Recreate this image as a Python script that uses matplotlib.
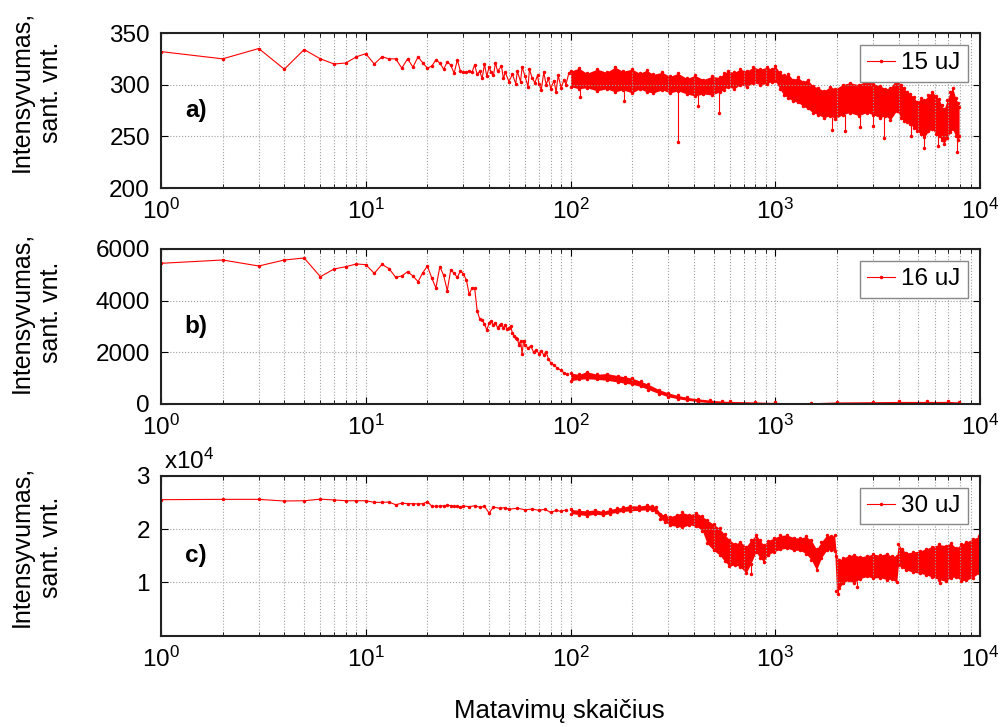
import numpy as np
import matplotlib.pyplot as plt
from matplotlib.ticker import LogLocator, NullFormatter, FixedLocator, FixedFormatter

plt.rcParams['font.family'] = ['Liberation Sans', 'DejaVu Sans']
plt.rcParams['mathtext.default'] = 'regular'

# ---- panel a) 15 uJ ----
a_x = list(range(1, 45)) + [46, 47, 48, 50, 52, 54, 55, 57, 58, 60,
                            62, 63, 65, 67, 69, 70, 72, 74, 76, 78,
                            80, 83, 85, 87, 90, 93, 95, 98]
a_y = [332, 325, 335, 315, 334, 325, 320, 321, 327, 330,
       320, 327, 325, 325, 316, 325, 317, 327, 321, 316,
       318, 324, 321, 315, 322, 319, 311, 324, 313, 312,
       312, 313, 312, 319, 310, 313, 306, 320, 308, 317,
       312, 309, 321, 313, 318, 306, 312, 303, 310, 301,
       313, 303, 317, 308, 298, 315, 306, 302, 309, 301,
       295, 312, 300, 306, 296, 304, 293, 309, 297, 305,
       300, 311]
# dense part: upper / lower edge of the noise band
a_bx = [100, 110, 120, 135, 150, 165, 180, 200, 218, 235, 254, 280, 306, 335,
        370, 405, 445, 490, 535, 560, 585, 630, 675, 725, 780, 845, 912, 960,
        1000, 1050, 1100, 1160, 1220, 1290, 1370, 1440, 1520, 1620, 1730, 1850,
        1965, 2130, 2310, 2550, 2800, 3000, 3250, 3450, 3650, 3920, 4100, 4230,
        4400, 4560, 4750, 4940, 5150, 5340, 5600, 5840, 6100, 6310, 6500, 6670,
        6900, 7150, 7350, 7600, 7830, 7900]
a_hi = [313, 316, 311, 315, 312, 317, 313, 315, 311, 314, 310, 312, 308, 311,
        306, 309, 305, 308, 307, 311, 313, 312, 315, 313, 317, 315, 317, 315,
        318, 312, 309, 310, 305, 307, 303, 305, 299, 297, 294, 298,
        296, 300, 302, 300, 304, 301, 299, 296, 297, 306, 300, 297,
        293, 291, 288, 283, 287, 285, 290, 293, 289, 286, 280, 276,
        285, 293, 297, 287, 282, 278]
a_lo = [298, 296, 297, 294, 296, 293, 295, 292, 296, 293, 292, 295, 292, 294,
        291, 289, 291, 290, 293, 295, 298, 296, 300, 298, 302, 300, 301, 303,
        304, 296, 290, 287, 284, 283, 279, 277, 273, 271, 268, 270,
        267, 271, 273, 270, 273, 271, 268, 270, 266, 275, 268, 265,
        264, 262, 258, 255, 252, 249, 255, 257, 252, 250, 246, 243,
        248, 254, 257, 250, 246, 250]
a_sx = [111, 183, 335, 420, 530, 1900, 2200, 2600, 3000, 3400, 4600, 5300, 6200, 7700]
a_sy = [288, 284, 245, 279, 273, 256, 255, 259, 260, 248, 250, 239, 241, 235]

# ---- panel b) 16 uJ ----
b_x = list(range(1, 61)) + [62, 64, 66, 68, 70, 72, 74, 76, 78, 80,
                            83, 86, 90, 93, 96]
b_y = [5446, 5574, 5342, 5574, 5652, 4928, 5226, 5316, 5420, 5394,
       5058, 5406, 5239, 4903, 4955, 5123, 4955, 4735, 5084, 5342,
       4877, 4490, 5316, 4980, 4387, 5200, 5058, 4900, 5160, 5030,
       4800, 4240, 4490, 4490, 3613, 3290, 3265, 3097, 2865, 3123,
       3200, 3050, 3150, 2950, 3050, 3100, 2950, 3050, 2900, 2950,
       3000, 2750, 2650, 2550, 2500, 2300, 2450, 1950, 2450, 2300,
       2150, 2250, 2000, 2100, 1950, 2050, 1900, 2000, 1750, 1600,
       1500, 1400, 1300, 1200, 1150]
b_bx = [100, 110, 120, 135, 150, 170, 185, 200, 220, 240, 270, 300, 335, 370,
        420, 480, 550, 600, 800, 1000, 1500, 2000, 3000, 4000, 5500, 7000, 7900]
b_hi = [1200, 1150, 1250, 1150, 1180, 1100, 1050, 1000, 880, 760, 560, 430, 330, 260,
        200, 150, 110, 100, 80, 60, 50, 80, 90, 100, 100, 100, 80]
b_lo = [900, 950, 980, 950, 920, 850, 800, 760, 680, 560, 400, 280, 200, 150,
        90, 50, 20, 15, 10, 0, 0, 10, 20, 20, 20, 20, 10]
b_sx = []
b_sy = []

# ---- panel c) 30 uJ ----
c_x = list(range(1, 31)) + [32, 34, 36, 38, 40, 42, 45, 48, 50, 55,
                            60, 65, 70, 75, 80, 85, 90, 95]
c_y = [25500, 25560, 25560, 25250, 25300, 25600, 25450, 25300, 25300, 25300,
       25000, 25000, 25050, 24550, 24850, 24750, 24750, 24700, 24750, 25100,
       24300, 24250, 24300, 24350, 24450, 24400, 24300, 24250, 24100, 24300,
       24200, 24350, 24100, 24250, 23000, 24100, 23900, 24000, 23700, 23900,
       23600, 23750, 23500, 23700, 23100, 23500, 23300, 23600]
c_bx = [100, 110, 120, 132, 144, 156, 168, 180, 195, 215, 236, 250, 260, 275,
        290, 306, 330, 352, 380, 412, 440, 464, 500, 535, 565, 597, 635, 675,
        720, 760, 805, 840, 876, 920, 980, 1060, 1140, 1230, 1320, 1410, 1500,
        1590, 1680, 1780, 1870, 1950, 1990, 2050, 2150, 2280, 2410, 2600, 2800,
        3000, 3250, 3500, 3700, 3920, 3990, 4150, 4370, 4700, 5100, 5450, 5840,
        6300, 6800, 7200, 7650, 8100, 8580, 9200, 9850, 10000]
c_hi = [23700, 23500, 23400, 23600, 23300, 23700, 23900, 24100, 24400, 24300,
        24500, 24400, 24200, 22900, 22600, 22300, 22700, 23100, 22700, 23000,
        22400, 21700, 20900, 20100, 19000, 18000, 17200, 17600, 16700, 17900,
        18900, 18000, 17000, 17800, 18300, 18800, 18900, 18400, 18300, 18600,
        17900, 16200, 17600, 18800, 18700, 18800, 15000, 14200, 14600, 15000,
        15200, 14800, 15000, 15300, 15100, 15400, 14900, 15000, 17200, 16300,
        15500, 15700, 15900, 16300, 16700, 17100, 16900, 17400, 16400, 17200,
        17600, 18100, 18600, 19000]
c_lo = [22900, 22700, 22500, 22800, 22600, 22900, 23100, 23300, 23400, 23500,
        23600, 23500, 23200, 21900, 21300, 20700, 20500, 20300, 20800, 20500,
        19700, 17300, 16000, 15100, 14000, 13000, 13300, 12900, 11700, 13500,
        15700, 14600, 13900, 15100, 15700, 16200, 16400, 16000, 16000, 15400,
        14200, 12300, 14600, 16000, 16100, 15800, 8400, 8900, 9900, 10400,
        9900, 10700, 11100, 10800, 10900, 10500, 10600, 10000, 13200, 12800,
        12300, 11900, 11700, 11400, 11000, 10500, 10200, 10900, 11000, 10300,
        10400, 10900, 11700, 12000]
c_sx = [760, 2030, 2500, 6400]
c_sy = [11500, 7900, 9200, 9800]

RED = '#ff0000'
FS = 17.5

fig = plt.figure(figsize=(10.02, 7.27), dpi=100)
ax_a = fig.add_axes([0.1607, 0.7414, 0.8174, 0.2132])
ax_b = fig.add_axes([0.1607, 0.4443, 0.8174, 0.2132])
ax_c = fig.add_axes([0.1607, 0.1256, 0.8174, 0.2201])


def draw_panel(ax, px, py, bx, hi, lo, sx, sy, label, letter, ylim, yticks, yticklabels, ylab_y):
    ax.fill_between(bx, lo, hi, color=RED, lw=0)
    ax.plot(bx, hi, '.', color=RED, ms=3)
    ax.plot(bx, lo, '.', color=RED, ms=3)
    if sx:
        base = np.interp(sx, bx, lo)
        ax.vlines(sx, sy, base, color=RED, lw=0.8)
        ax.plot(sx, sy, '.', color=RED, ms=3)
    ax.plot(px, py, '-', marker='.', color=RED, lw=0.8, ms=3, label=label)

    ax.set_xscale('log')
    ax.set_xlim(1, 1e4)
    ax.set_ylim(*ylim)
    ax.xaxis.set_major_locator(LogLocator(base=10, numticks=10))
    ax.xaxis.set_minor_locator(LogLocator(base=10, subs=np.arange(2, 10), numticks=100))
    ax.xaxis.set_minor_formatter(NullFormatter())
    ax.yaxis.set_major_locator(FixedLocator(yticks))
    ax.yaxis.set_major_formatter(FixedFormatter(yticklabels))
    ax.grid(True, which='both', axis='x', ls=':', color='#a0a0a0', lw=0.8)
    ax.grid(True, which='major', axis='y', ls=':', color='#a0a0a0', lw=0.8)
    ax.tick_params(which='both', direction='in', top=True, right=True, labelsize=FS)
    ax.tick_params(which='major', length=5, pad=8)
    ax.tick_params(which='minor', length=3)
    for s in ax.spines.values():
        s.set_linewidth(1.5)
        s.set_color('#222222')

    ax.set_ylabel('Intensyvumas,\nsant. vnt.', fontsize=18, linespacing=1.25)
    ax.yaxis.set_label_coords(-0.12, ylab_y)
    ax.text(0.029, 0.5, letter, transform=ax.transAxes, fontsize=FS,
            fontweight='bold', va='center', ha='left')
    leg = ax.legend(loc='upper right', fontsize=FS, fancybox=False, framealpha=1,
                    edgecolor='#888888', handlelength=1.15, handletextpad=0.25,
                    borderpad=0.3, borderaxespad=0.5)
    leg.get_frame().set_linewidth(1.0)


draw_panel(ax_a, a_x, a_y, a_bx, a_hi, a_lo, a_sx, a_sy, '15 uJ', 'a)',
           (200, 350), [200, 250, 300, 350], ['200', '250', '300', '350'], 0.62)
draw_panel(ax_b, b_x, b_y, b_bx, b_hi, b_lo, b_sx, b_sy, '16 uJ', 'b)',
           (0, 6000), [0, 2000, 4000, 6000], ['0', '2000', '4000', '6000'], 0.59)
draw_panel(ax_c, c_x, c_y, c_bx, c_hi, c_lo, c_sx, c_sy, '30 uJ', 'c)',
           (0, 30000), [10000, 20000, 30000], ['1', '2', '3'], 0.555)
ax_c.text(0.004, 1.01, r'x10$^{4}$', transform=ax_c.transAxes, fontsize=FS,
          va='bottom', ha='left')

fig.text(559 / 1002, 1 - 711 / 727, 'Matavimų skaičius', fontsize=18.5,
         ha='center', va='center')

fig.savefig('out.png', dpi=100)
